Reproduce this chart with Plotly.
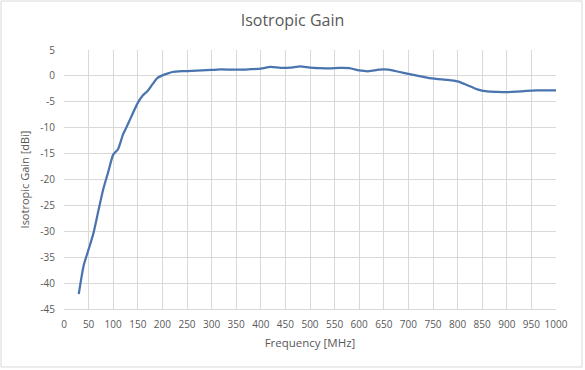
import plotly.graph_objects as go

freq_mhz = [30, 40, 50, 60, 70, 80, 90, 100, 110, 120, 130, 140, 150, 160, 170, 180, 190, 200,
            210, 220, 240, 260, 280, 300, 320, 340, 360, 380, 400, 420, 440, 460, 480, 500,
            520, 540, 560, 580, 600, 620, 640, 660, 680, 700, 720, 740, 760, 780, 800, 820,
            840, 860, 880, 900, 920, 940, 960, 980, 1000]
gain_dbi = [-42.1, -36.6, -33.5, -30.3, -26.0, -21.8, -18.5, -15.2, -14.1, -11.3, -9.3, -7.2,
            -5.2, -3.8, -2.9, -1.6, -0.4, 0.1, 0.45, 0.75, 0.9, 0.95, 1.05, 1.15, 1.25, 1.2,
            1.2, 1.3, 1.4, 1.75, 1.55, 1.6, 1.85, 1.6, 1.5, 1.45, 1.55, 1.5, 1.05, 0.9, 1.2,
            1.2, 0.8, 0.4, 0.0, -0.4, -0.6, -0.75, -1.05, -1.8, -2.6, -3.0, -3.1, -3.15, -3.05,
            -2.9, -2.8, -2.8, -2.8]

x_ticks = list(range(0, 1001, 50))
y_ticks = list(range(-45, 6, 5))

fig = go.Figure()
fig.add_trace(go.Scatter(x=freq_mhz, y=gain_dbi, mode="lines",
                         line=dict(color="#4a74b0", width=2.25, shape="spline", smoothing=0.6),
                         showlegend=False))

font = "Open Sans, Lato, sans-serif"
fig.update_layout(
    width=585, height=370,
    margin=dict(l=64, r=29, t=50, b=61),
    paper_bgcolor="white", plot_bgcolor="white",
    title=dict(text="Isotropic Gain", x=0.5, xanchor="center", y=0.945, yanchor="middle",
               font=dict(family=font, size=16, color="#595959")),
    font=dict(family=font, size=10, color="#595959"),
    xaxis=dict(range=[0, 1000], tickvals=x_ticks, ticktext=[str(v) for v in x_ticks],
               showgrid=True, gridcolor="#d9d9d9", gridwidth=1, zeroline=False,
               showline=True, linecolor="#d9d9d9", mirror=False, ticks="",
               ticklabelstandoff=6,
               title=dict(text="Frequency [MHz]", font=dict(family=font, size=11.5, color="#595959"),
                          standoff=8)),
    yaxis=dict(range=[-45, 5], tickvals=y_ticks, ticktext=[str(v) for v in y_ticks],
               showgrid=True, gridcolor="#d9d9d9", gridwidth=1, zeroline=False,
               showline=False, ticks="",
               ticklabelstandoff=8,
               title=dict(text="Isotropic Gain [dBi]", font=dict(family=font, size=11, color="#595959"),
                          standoff=8)),
    shapes=[dict(type="rect", xref="paper", yref="paper",
                 x0=(1 - 64) / 492, x1=(582 - 64) / 492,
                 y0=(309 - 367) / 259, y1=(309 - 1) / 259,
                 line=dict(color="#d9d9d9", width=1), fillcolor="rgba(0,0,0,0)", layer="below")],
)

fig.write_html("out.html", config={"displayModeBar": False},
               post_script="document.body.style.margin='0';")
